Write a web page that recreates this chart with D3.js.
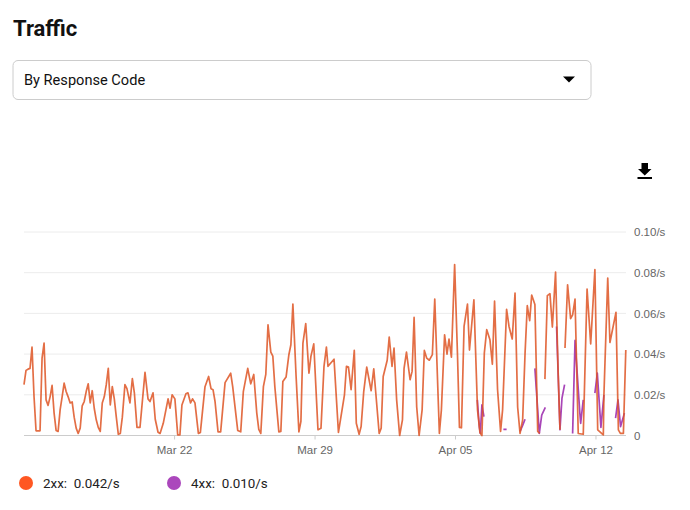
<!DOCTYPE html>
<html>
<head>
<meta charset="utf-8">
<title>Traffic</title>
<script src="https://cdn.jsdelivr.net/npm/d3@7"></script>
<style>
    html, body { margin: 0; padding: 0; background: #fff; }
    svg { display: block; }
    text { font-family: Roboto, sans-serif; }
    .tick-label { font-family: "Liberation Sans", Arial, sans-serif; font-size: 11.5px; fill: #666; }
</style>
</head>
<body>
<svg id="chart" width="690" height="510"></svg>
<script>
// samples are 2.4h apart, values are in thousandths of a request per second
var slots2xx = [
    0, 1, 2, 3, 4, 5, 6, 8, 9, 10, 11, 12, 13, 14, 15, 16, 17, 18, 19, 20, 21, 22, 23, 24,
    25, 26, 27, 28, 29, 30, 31, 32, 33, 34, 35, 36, 37, 38, 39, 40, 41, 42, 43, 44, 45, 46, 47, 48, 49,
    50.3, 51.3, 52.8, 54, 55, 56.3, 57.8, 60.3, 61.8, 62.8, 64.3, 65.4, 66.8, 67.8, 69.4,
    71.8, 72.8, 73.8, 75.2, 76.6, 77.7, 78.7, 80.7, 81.7, 83, 84, 85.2, 86.9, 87.9,
    90.2, 92, 93.2, 94.2, 95.2, 96.7, 98, 100.2, 103, 104, 106.5, 108, 109.3, 111.5, 113, 114.5,
    116, 117, 118, 119.3, 120.5, 121.6, 123, 124, 125, 127, 128, 129, 130.6, 132, 133, 134,
    135.6, 137, 138, 139, 140.4, 142, 143, 144.4, 146.5, 148, 149.5, 150.7, 151.5, 154.5,
    156.7, 159.7, 160.7, 161.7, 163, 164.6, 165.6, 167, 168, 169.3, 170.8, 173, 174.3, 177,
    178, 179, 181, 182, 183.4, 184.4, 185.7, 187.2, 188.6, 189.4, 190.6, 192.4, 193.4, 194.4,
    195.7, 196.9, 198.4, 199.5, 200.7, 202, 203.5, 204.7, 207, 208, 209.6, 210.8, 211.8, 213,
    214.6, 216, 217, 218, 219.3, 221, 222, 224.2, 226, 227.2, 228.2, 229.4, 230.6, 232.2,
    233.4, 234.5, 236, 237.5, 238.5, 240.5, 241.7, 243.3, 244.7, 246, 247.2, 248.5, 249.7,
    250.8, 252, 253, 254.6, 256, 257, 258, 259.6, 260.8, 262.1, 263.3, 264.9, 266.1, 267.1, 268,
    269.6, 270.9, 272.4, 273.4, 274.6, 276.2, 278.7, 280.6, 282.4, 284.5, 285.9, 288.7, 289,
    290.9, 292, 295, 296.2, 297.2, 298.7, 299.9
];
var values2xx = [
    25, 32, 32.6, 33, 43.4, 19, 2.3, 2.3, 38, 45.4, 17.5, 14.8, 19, 24.6, 11, 2.5, 2, 12.6, 19, 25.7, 21.6, 19, 16, 16.5,
    9, 3.6, 1, 3.6, 14.6, 16.7, 21.6, 25.4, 16, 22, 13.4, 7.7, 4, 2, 16, 19, 25, 33, 15, 24, 18, 9, 0.6, 1, 9,
    25, 23, 16, 28, 21, 4, 4, 31, 18, 16.7, 21, 8, 1.6, 1, 6,
    18, 13.4, 20, 18, 0.3, 0.3, 15, 20.5, 21, 16, 18, 16, 1, 1.5,
    24, 29, 23, 22.5, 16.7, 1.8, 1.8, 26, 30.6, 24, 2.5, 1.8, 21.6, 33, 25.4, 30,
    11, 3, 1, 24, 30, 54.4, 41, 39, 24, 1.8, 2, 26.5, 28.7, 39.7, 44.6, 64.6,
    29, 1.8, 7, 45.4, 55, 30.6, 39, 45, 2.8, 3.6, 34, 43.4, 34, 37.5,
    1.5, 20, 34, 33.6, 22.5, 41.8, 6, 0.6, 4.4, 21.6, 33.6, 22, 32.8, 1,
    3.6, 29, 37, 48.4, 34, 43, 17.5, 0, 7.7, 33, 41, 27.4, 31.5, 58,
    14, 0, 12.6, 41.8, 38, 37, 39.7, 67, 1, 12.6, 49.5, 40, 47.4, 38.5,
    84, 40.5, 4, 3.8, 53.6, 64.6, 42, 66.7, 12.6, 1.5, 0, 40.5, 52, 47,
    35, 66, 22.5, 2, 12.6, 62, 53.6, 47.4, 70, 14, 1, 7.7, 40.5,
    63.8, 56.4, 69, 64.4, 2, 1, null, 27.7, 68.7, 69.7, 53.3, 80.3, 34, 2.8, null,
    43, 74, 57.4, 59.3, 67, 1, 0.6, 72, 45, 81.5, 2.8, 0.3, 20,
    77.4, 45.7, 60.5, 2.8, 1, 1, 42
];
var slots4xx = [
    225.9, 226.9, 227.4, 228.2, 229.2, 229.6,
    238.9, 240.5, 240.9,
    247.2, 248.5, 249.7, 250,
    254.6, 256.8, 258, 259.8, 260,
    265.4, 267.1, 268.1, 269.4, 269.8,
    273.4, 274.6, 277, 277.4, 278.7, 279,
    284.5, 285.7, 287.5, 289, 289.4,
    294.8, 296, 297.3, 299.2
];
var values4xx = [
    17.5, 4.4, 1, 15, 9.3, null,
    3, 3, null,
    2, 5, 8, null,
    33, 1, 10, 13.8, null,
    53.6, 2.8, 18.4, 25, null,
    1, 46.7, 11, 6, 17.5, null,
    20.8, 30.7, 4, 20, null,
    8.5, 17.5, 4.4, 11
];
var yTicks = [0, 20, 40, 60, 80, 100];
var xTicks = ["2020-03-22", "2020-03-29", "2020-04-05", "2020-04-12"];
var legendItems = ["2xx:  0.042/s", "4xx:  0.010/s"];
var legendColors = ["#ff5722", "#ab47bc"];
var lineColors = ["#de5524", "#a845b8"];

var start = Date.UTC(2020, 2, 14, 12, 30);
var slotMs = 2.4 * 3600 * 1000;

var svg = d3.select("#chart");
var x = d3.scaleUtc()
    .domain([new Date(start), new Date(start + 300 * slotMs)])
    .range([24, 626]);
var y = d3.scaleLinear().domain([0, 100]).range([435.5, 232]);

// header
svg.append("text").attr("x", 13).attr("y", 36)
    .style("font-size", "22px").style("font-weight", 700).style("fill", "#111")
    .text("Traffic");
svg.append("rect").attr("x", 13).attr("y", 60.5).attr("width", 578).attr("height", 39)
    .attr("rx", 5).attr("fill", "#fff").attr("stroke", "#ccc").attr("stroke-width", 1);
svg.append("text").attr("x", 24).attr("y", 85)
    .style("font-size", "14.6px").style("fill", "#111")
    .text("By Response Code");
svg.append("path").attr("d", "M563 76.5h12l-6 6z").attr("fill", "#000");

// download icon
svg.append("path").attr("d", "M641.5 163h6.5v6h3.5l-6.75 6.5l-6.75 -6.5h3.5z M637.5 177h14.5v2h-14.5z")
    .attr("fill", "#000");

// grid and axes
svg.append("g").selectAll("line").data(yTicks).join("line")
    .attr("x1", 24).attr("x2", 626)
    .attr("y1", function(d) { return y(d); }).attr("y2", function(d) { return y(d); })
    .attr("stroke", function(d) { return d === 0 ? "#ccc" : "#ececec"; });

var yAxis = d3.axisRight(y).tickValues(yTicks).tickSize(0).tickPadding(0)
    .tickFormat(function(d) { return d === 0 ? "0" : (d / 1000).toFixed(2) + "/s"; });
var gy = svg.append("g").attr("transform", "translate(634,0)").call(yAxis);
gy.select(".domain").remove();
gy.selectAll("text").attr("class", "tick-label");

var xAxis = d3.axisBottom(x).tickSize(4).tickPadding(6)
    .tickValues(xTicks.map(function(d) { return new Date(d + "T00:00:00Z"); }))
    .tickFormat(d3.utcFormat("%b %d"));
var gx = svg.append("g").attr("transform", "translate(0,435.5)").call(xAxis);
gx.select(".domain").remove();
gx.selectAll("line").attr("stroke", "#ccc");
gx.selectAll("text").attr("class", "tick-label");

// series
function drawSeries(slots, values, color, opacity) {
    var points = slots.map(function(s, i) {
        return { t: new Date(start + s * slotMs), v: values[i] };
    });
    var line = d3.line()
        .defined(function(d) { return d.v !== null; })
        .x(function(d) { return x(d.t); })
        .y(function(d) { return y(d.v); });
    svg.append("path").datum(points)
        .attr("d", line)
        .attr("fill", "none")
        .attr("stroke", color)
        .attr("stroke-width", 1.7)
        .attr("stroke-linejoin", "round")
        .attr("opacity", opacity);
}
drawSeries(slots4xx, values4xx, lineColors[1], 1);
drawSeries(slots2xx, values2xx, lineColors[0], 0.85);

// legend
var legendX = [26, 174];
var legend = svg.append("g").selectAll("g").data(legendItems).join("g")
    .attr("transform", function(d, i) { return "translate(" + legendX[i] + ",483)"; });
legend.append("circle").attr("r", 7).attr("fill", function(d, i) { return legendColors[i]; });
legend.append("text").attr("x", 17).attr("y", 5)
    .style("font-size", "13.4px").style("fill", "#222").style("white-space", "pre")
    .attr("xml:space", "preserve")
    .text(function(d) { return d; });
</script>
</body>
</html>
